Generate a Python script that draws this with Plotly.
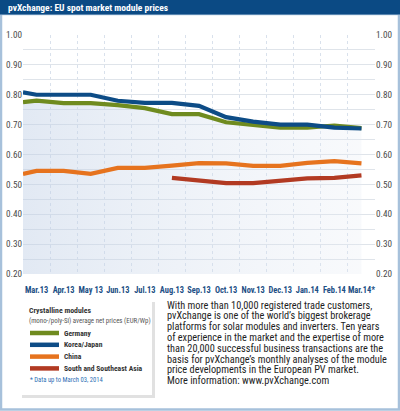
import plotly.graph_objects as go

# ---------------- data ----------------
months = ["Mar.13", "Apr.13", "May 13", "Jun.13", "Jul.13", "Aug.13", "Sep.13",
          "Oct.13", "Nov.13", "Dec.13", "Jan.14", "Feb.14", "Mar.14*"]
germany = [0.780, 0.772, 0.772, 0.765, 0.755, 0.735, 0.735, 0.708, 0.700, 0.690, 0.690, 0.697, 0.688]
korea_japan = [0.800, 0.800, 0.800, 0.780, 0.773, 0.773, 0.763, 0.725, 0.710, 0.700, 0.700, 0.690, 0.687]
china = [0.545, 0.545, 0.535, 0.555, 0.555, 0.563, 0.571, 0.570, 0.562, 0.562, 0.572, 0.578, 0.570]
se_asia = [None, None, None, None, None, 0.522, 0.512, 0.504, 0.504, 0.513, 0.520, 0.522, 0.530]
# value carried in from the preceding month (line starts at the left edge)
carry_in = {"Germany": 0.775, "Korea/Japan": 0.808, "China": 0.535}

series_names = ["Germany", "Korea/Japan", "China", "South and Southeast Asia"]
series_values = [germany, korea_japan, china, se_asia]
series_colors = ["#6f8b1f", "#0d4c86", "#e6731e", "#b23a22"]
y_ticks = [0.20, 0.30, 0.40, 0.50, 0.60, 0.70, 0.80, 0.90, 1.00]

title_text = "pvXchange: EU spot market module prices"
legend_title = "Crystalline modules"
legend_sub = "(mono-/poly-Si) average net prices (EUR/Wp)"
footnote = "* Data up to March 03, 2014"
body_lines = [
    "With more than 10,000 registered trade customers,",
    "pvXchange is one of the world\u2019s biggest brokerage",
    "platforms for solar modules and inverters. Ten years",
    "of experience in the market and the expertise of more",
    "than 20,000 successful business transactions are the",
    "basis for pvXchange\u2019s monthly analyses of the module",
    "price developments in the European PV market.",
    "More information: www.pvXchange.com",
]

FONT = "Roboto Condensed, DejaVu Sans Condensed, sans-serif"

# ---------------- geometry helpers ----------------
W_FIG, H_FIG = 400, 411
L, R, T, B = 23, 375, 35, 274
PW, PH = R - L, B - T


def px(x):
    return (x - L) / PW


def py(y):
    return (B - y) / PH


fig = go.Figure()

xs = list(range(len(months)))
for name, vals, col in zip(series_names, series_values, series_colors):
    x_line = list(xs)
    y_line = list(vals)
    if name in carry_in:
        x_line = [-0.5] + x_line
        y_line = [carry_in[name]] + y_line
    kw = {}
    if name == "Germany":
        kw = dict(fill="tozeroy",
                  fillgradient=dict(type="horizontal",
                                    colorscale=[[0, "rgba(190,206,229,0.45)"],
                                                [1, "rgba(228,234,243,0.25)"]]))
    fig.add_trace(go.Scatter(x=x_line, y=y_line, mode="lines", name=name,
                             line=dict(color=col, width=4.2, shape="linear"),
                             connectgaps=False, showlegend=False,
                             hoverinfo="skip", **kw))

# invisible trace for the right axis
fig.add_trace(go.Scatter(x=[xs[0]], y=[germany[0]], yaxis="y2", mode="markers",
                         marker=dict(opacity=0), showlegend=False, hoverinfo="skip"))

yaxis_common = dict(range=[0.2, 1.0], tickvals=y_ticks,
                    ticktext=[f"{v:.2f}" for v in y_ticks],
                    tickfont=dict(family=FONT, size=9.2, color="#4a4a4a"),
                    showgrid=True, gridcolor="#dfe4ea", gridwidth=1,
                    zeroline=False, showline=False, ticks="", automargin=False)

fig.update_layout(
    width=W_FIG, height=H_FIG,
    margin=dict(l=L, r=W_FIG - R, t=T, b=H_FIG - B, pad=0),
    paper_bgcolor="white", plot_bgcolor="white",
    showlegend=False,
    xaxis=dict(range=[-0.5, len(months) - 0.5], tickvals=xs, ticktext=months,
               tickfont=dict(family=FONT, size=8.4, color="#1d4f85", weight="bold"),
               ticks="outside", ticklen=8, tickcolor="rgba(0,0,0,0)", tickangle=0,
               showgrid=False, zeroline=False, showline=False, automargin=False,
               minor=dict(tick0=0.5, dtick=1, showgrid=True, gridcolor="#d9e1ec",
                          griddash="dot", gridwidth=1)),
    yaxis=dict(**yaxis_common, side="left",
               minor=dict(dtick=0.05, tick0=0.2, showgrid=True, gridcolor="#dfe4ea", gridwidth=1)),
    yaxis2=dict(**yaxis_common, side="right", overlaying="y"),
)

shapes = []
ann = []

# frame border
border = "#a7c1db"
shapes.append(dict(type="rect", xref="paper", yref="paper",
                   x0=px(1), x1=px(W_FIG - 1), y0=py(H_FIG - 1.5), y1=py(14),
                   line=dict(color=border, width=2.5), fillcolor="rgba(0,0,0,0)", layer="below"))
# title bar
shapes.append(dict(type="rect", xref="paper", yref="paper",
                   x0=px(0), x1=px(W_FIG), y0=py(14.5), y1=py(0),
                   line=dict(width=0), fillcolor="#0b4a84"))
ann.append(dict(text=title_text, xref="paper", yref="paper", x=px(6), y=py(7.5),
                xanchor="left", yanchor="middle", showarrow=False,
                font=dict(family=FONT, size=9.5, color="white", weight="bold")))

# legend box with shadow
bx0, bx1, by0, by1 = 20, 152, 300, 395
shapes.append(dict(type="rect", xref="paper", yref="paper",
                   x0=px(bx0 + 2), x1=px(bx1 + 3), y0=py(by1 + 3), y1=py(by0 + 2),
                   line=dict(width=0), fillcolor="rgba(120,120,120,0.22)"))
shapes.append(dict(type="rect", xref="paper", yref="paper",
                   x0=px(bx0), x1=px(bx1), y0=py(by1), y1=py(by0),
                   line=dict(width=0), fillcolor="white"))
ann.append(dict(text=legend_title, xref="paper", yref="paper", x=px(27), y=py(310),
                xanchor="left", yanchor="middle", showarrow=False,
                font=dict(family=FONT, size=7.8, color="#333333", weight="bold")))
ann.append(dict(text=legend_sub, xref="paper", yref="paper", x=px(27), y=py(320.5),
                xanchor="left", yanchor="middle", showarrow=False,
                font=dict(family=FONT, size=6.9, color="#555555")))
for i, (name, col) in enumerate(zip(series_names, series_colors)):
    yy = 333 + i * 11.8
    shapes.append(dict(type="line", xref="paper", yref="paper",
                       x0=px(30), x1=px(59), y0=py(yy), y1=py(yy),
                       line=dict(color=col, width=4.5)))
    ann.append(dict(text=name, xref="paper", yref="paper", x=px(62), y=py(yy),
                    xanchor="left", yanchor="middle", showarrow=False,
                    font=dict(family=FONT, size=7.6, color="#333333", weight="bold")))
ann.append(dict(text=footnote, xref="paper", yref="paper", x=px(28), y=py(380),
                xanchor="left", yanchor="middle", showarrow=False,
                font=dict(family=FONT, size=6.6, color="#2e6fb5")))

# body text
for i, line in enumerate(body_lines):
    ann.append(dict(text=line, xref="paper", yref="paper", x=px(166), y=py(305 + i * 10.8),
                    xanchor="left", yanchor="middle", showarrow=False, borderpad=0,
                    font=dict(family=FONT, size=10.3, color="#1e1e1e")))

fig.update_layout(shapes=shapes, annotations=ann)
fig.write_html("out.html", config={"displayModeBar": False},
               post_script="document.body.style.margin='0';document.body.style.padding='0';")
